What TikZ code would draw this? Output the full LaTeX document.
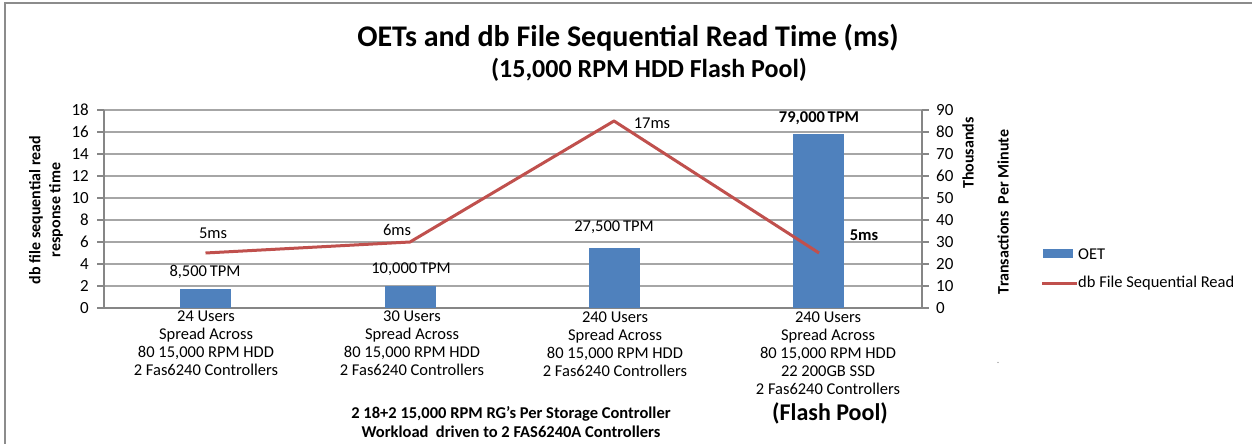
\documentclass[tikz,border=0pt]{standalone}
\usepackage{fontspec}
\setmainfont{Carlito}
\definecolor{barblue}{HTML}{4F81BD}
\definecolor{linered}{HTML}{C0504D}
\definecolor{gridgray}{HTML}{A6A6A6}
\definecolor{axisgray}{HTML}{868686}
\definecolor{framegray}{HTML}{8C8C8C}
\begin{document}
\begin{tikzpicture}[x=1pt,y=-1pt,
  ticklbl/.style={font=\fontsize{17}{17}\selectfont, inner sep=0pt},
  datalbl/.style={font=\fontsize{16.5}{16.5}\selectfont, inner sep=0pt},
  catlbl/.style={font=\fontsize{16.5}{17.8}\selectfont, align=center, inner sep=0pt, anchor=north},
  axtitle/.style={font=\bfseries\fontsize{16}{20}\selectfont, rotate=90, align=center, inner sep=0pt},
  bar/.style={fill=barblue, draw=none},
  gridline/.style={draw=gridgray, line width=1.3pt},
  axisline/.style={draw=axisgray, line width=1.2pt},
  series/.style={draw=linered, line width=3pt, line join=round}]
\useasboundingbox (0,0) rectangle (1252,444);
\fill[white] (0,0) rectangle (1252,444);
% chart frame (left and top edges)
\draw[framegray, line width=1.5pt] (5,444) -- (5,3) -- (1252,3);

% titles
\node[font=\bfseries\fontsize{30}{30}\selectfont, inner sep=0pt] (title) at (628,38) {OETs and db File Sequential Read Time (ms)};
\node[font=\bfseries\fontsize{26}{26}\selectfont, inner sep=0pt] (subtitle) at (649,70) {(15,000 RPM HDD Flash Pool)};

% horizontal gridlines and ticks
\foreach \k in {1,...,9} {
  \draw[gridline] (104,{308-22*\k}) -- (922,{308-22*\k});
}
\foreach \k in {0,...,9} {
  \draw[axisline] (97,{308-22*\k}) -- (104,{308-22*\k});
  \draw[axisline] (922,{308-22*\k}) -- (929,{308-22*\k});
  \pgfmathtruncatemacro{\lv}{2*\k}
  \pgfmathtruncatemacro{\rv}{10*\k}
  \node[ticklbl, anchor=east] (l\k) at (89,{308-22*\k}) {\lv};
  \node[ticklbl, anchor=west] (r\k) at (936,{308-22*\k}) {\rv};
}
\draw[axisline] (104,110) -- (104,308) -- (922,308) -- (922,110);

% axis titles
\node[axtitle] (ytitle) at (46,210) {db file sequential read\\response time};
\node[axtitle] (thou) at (968,153) {Thousands};
\node[axtitle] (tpm) at (1003,212) {Transactions~ Per Minute};

% OET bars
\fill[bar] (180,289.3) rectangle (231,308);
\fill[bar] (385,286) rectangle (436,308);
\fill[bar] (589,247.5) rectangle (640,308);
\fill[bar] (793,134.2) rectangle (844,308);

% bar labels
\node[datalbl] (b1) at (205,272) {8,500\,TPM};
\node[datalbl] (b2) at (411,269) {10,000\,TPM};
\node[datalbl] (b3) at (614,227) {27,500\,TPM};
\node[datalbl, font=\bfseries\fontsize{16.5}{16.5}\selectfont] (b4) at (819,118) {79,000\,TPM};

% read time series
\coordinate (p1) at (205.5,253);
\coordinate (p2) at (410,242);
\coordinate (p3) at (614,121);
\coordinate (p4) at (819,253);
\draw[series] (p1) -- (p2) -- (p3) -- (p4);
\node[datalbl] (m1) at (213,233) {5ms};
\node[datalbl] (m2) at (397,230) {6ms};
\node[datalbl] (m3) at (652,123) {17ms};
\node[datalbl, font=\bfseries\fontsize{16.5}{16.5}\selectfont] (m4) at (864,235) {5ms};

% category labels
\node[catlbl] (c1) at (206,311) {24 Users\\Spread Across\\80 15,000 RPM HDD\\2 Fas6240 Controllers};
\node[catlbl] (c2) at (412,311) {30 Users\\Spread Across\\80 15,000 RPM HDD\\2 Fas6240 Controllers};
\node[catlbl] (c3) at (615,312) {240 Users\\Spread Across\\80 15,000 RPM HDD\\2 Fas6240 Controllers};
\node[catlbl] (c4) at (828,312) {240 Users\\Spread Across\\80 15,000 RPM HDD\\22 200GB SSD\\2 Fas6240 Controllers};
\node[font=\bfseries\fontsize{24}{24}\selectfont, inner sep=0pt] (flash) at (830,413) {(Flash Pool)};
\node[font=\bfseries\fontsize{16.5}{19}\selectfont, align=center, inner sep=0pt] (note) at (511,422) {2 18+2 15,000 RPM RG's Per Storage Controller\\Workload~ driven to 2 FAS6240A Controllers};
\node[font=\fontsize{10}{10}\selectfont, inner sep=0pt, text=gray] (dot) at (998,363) {.};

% legend
\fill[bar] (1043,249) rectangle (1073,258);
\node[datalbl, anchor=west] (lg1) at (1078,254) {OET};
\coordinate (lgs) at (1042,283);
\coordinate (lge) at (1077,283);
\draw[series] (lgs) -- (lge);
\node[datalbl, anchor=west] (lg2) at (1078,283) {db File Sequential Read};
\end{tikzpicture}
\end{document}
